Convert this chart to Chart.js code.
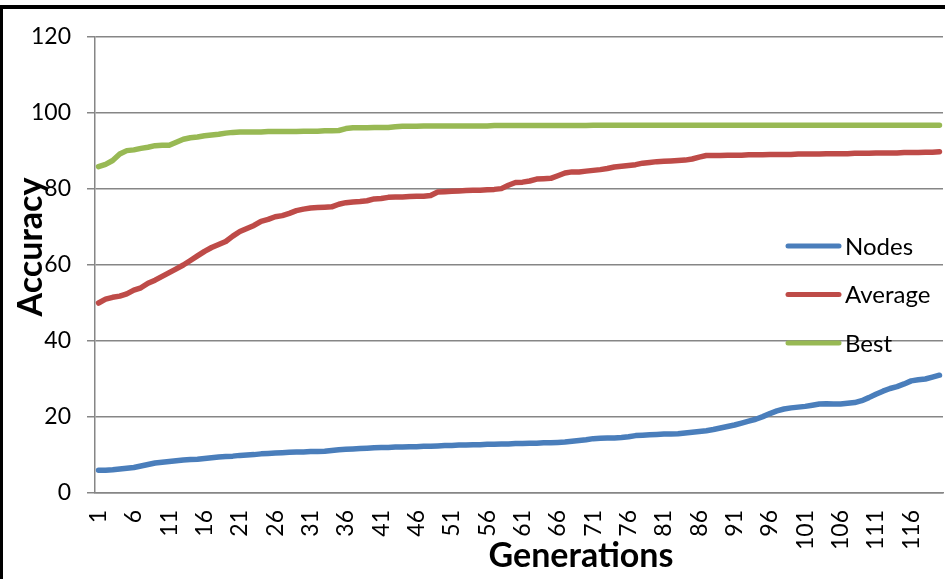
<!DOCTYPE html>
<html>
<head>
<meta charset="utf-8">
<script src="https://cdn.jsdelivr.net/npm/chart.js@4/dist/chart.umd.min.js"></script>
<style>
  html, body { margin: 0; padding: 0; background: #fff; }
  #wrap { position: relative; width: 945px; height: 579px; overflow: hidden; }
  #frame { position: absolute; left: 0; top: 5px; width: 1000px; height: 1000px;
           border-top: 4px solid #000; border-left: 3px solid #000; }
  #chart { position: absolute; left: 0; top: 0; }
</style>
</head>
<body>
<div id="wrap">
  <div id="frame"></div>
  <canvas id="chart" width="945" height="579"></canvas>
</div>
<script>
// generations on the x axis (labels shown every 5th)
const generations = [
  1, 2, 3, 4, 5, 6, 7, 8, 9, 10, 11, 12, 13, 14, 15, 16, 17, 18, 19, 20,
  21, 22, 23, 24, 25, 26, 27, 28, 29, 30, 31, 32, 33, 34, 35, 36, 37, 38, 39, 40,
  41, 42, 43, 44, 45, 46, 47, 48, 49, 50, 51, 52, 53, 54, 55, 56, 57, 58, 59, 60,
  61, 62, 63, 64, 65, 66, 67, 68, 69, 70, 71, 72, 73, 74, 75, 76, 77, 78, 79, 80,
  81, 82, 83, 84, 85, 86, 87, 88, 89, 90, 91, 92, 93, 94, 95, 96, 97, 98, 99, 100,
  101, 102, 103, 104, 105, 106, 107, 108, 109, 110, 111, 112, 113, 114, 115, 116, 117, 118, 119, 120
];

const nodes = [
  6.0, 6.0, 6.1, 6.3, 6.5, 6.7, 7.1, 7.5, 7.9, 8.1,
  8.3, 8.5, 8.7, 8.8, 8.9, 9.1, 9.3, 9.5, 9.6, 9.7,
  9.9, 10.0, 10.1, 10.3, 10.4, 10.5, 10.6, 10.7, 10.8, 10.8,
  10.9, 10.9, 11.0, 11.2, 11.4, 11.5, 11.6, 11.7, 11.8, 11.9,
  12.0, 12.0, 12.1, 12.1, 12.2, 12.2, 12.3, 12.3, 12.4, 12.5,
  12.5, 12.6, 12.6, 12.7, 12.7, 12.8, 12.8, 12.9, 12.9, 13.0,
  13.0, 13.1, 13.1, 13.2, 13.2, 13.3, 13.4, 13.6, 13.8, 14.0,
  14.3, 14.4, 14.5, 14.5, 14.6, 14.8, 15.1, 15.2, 15.3, 15.4,
  15.5, 15.5, 15.6, 15.8, 16.0, 16.2, 16.4, 16.7, 17.1, 17.5,
  17.9, 18.4, 18.9, 19.4, 20.1, 20.9, 21.6, 22.1, 22.4, 22.6,
  22.8, 23.1, 23.4, 23.5, 23.4, 23.4, 23.6, 23.8, 24.3, 25.1,
  26.0, 26.8, 27.5, 28.0, 28.7, 29.5, 29.8, 30.0, 30.5, 31.0
];

const average = [
  50.0, 51.0, 51.5, 51.8, 52.4, 53.4, 54.0, 55.2, 56.0, 57.0,
  58.0, 59.0, 60.0, 61.2, 62.4, 63.6, 64.6, 65.4, 66.2, 67.6,
  68.8, 69.6, 70.4, 71.5, 72.0, 72.7, 73.0, 73.6, 74.3, 74.7,
  75.0, 75.1, 75.2, 75.3, 76.0, 76.4, 76.6, 76.7, 76.9, 77.4,
  77.5, 77.8, 77.9, 77.9, 78.0, 78.1, 78.1, 78.3, 79.2, 79.3,
  79.4, 79.5, 79.6, 79.7, 79.7, 79.8, 79.9, 80.1, 81.0, 81.7,
  81.8, 82.1, 82.6, 82.7, 82.8, 83.5, 84.2, 84.5, 84.5, 84.7,
  84.9, 85.1, 85.4, 85.8, 86.0, 86.2, 86.4, 86.8, 87.0, 87.2,
  87.3, 87.4, 87.5, 87.6, 87.9, 88.4, 88.8, 88.8, 88.8, 88.9,
  88.9, 88.9, 89.0, 89.0, 89.0, 89.1, 89.1, 89.1, 89.1, 89.2,
  89.2, 89.2, 89.2, 89.3, 89.3, 89.3, 89.3, 89.4, 89.4, 89.4,
  89.5, 89.5, 89.5, 89.5, 89.6, 89.6, 89.6, 89.7, 89.7, 89.8
];

const best = [
  85.9, 86.5, 87.5, 89.2, 90.1, 90.3, 90.7, 91.0, 91.4, 91.5,
  91.5, 92.3, 93.1, 93.5, 93.7, 94.0, 94.2, 94.4, 94.7, 94.9,
  95.0, 95.0, 95.0, 95.0, 95.1, 95.1, 95.1, 95.1, 95.1, 95.2,
  95.2, 95.2, 95.3, 95.3, 95.4, 95.9, 96.1, 96.1, 96.1, 96.2,
  96.2, 96.2, 96.4, 96.5, 96.5, 96.5, 96.6, 96.6, 96.6, 96.6,
  96.6, 96.6, 96.6, 96.6, 96.6, 96.6, 96.7, 96.7, 96.7, 96.7,
  96.7, 96.7, 96.7, 96.7, 96.7, 96.7, 96.7, 96.7, 96.7, 96.7,
  96.8, 96.8, 96.8, 96.8, 96.8, 96.8, 96.8, 96.8, 96.8, 96.8,
  96.8, 96.8, 96.8, 96.8, 96.8, 96.8, 96.8, 96.8, 96.8, 96.8,
  96.8, 96.8, 96.8, 96.8, 96.8, 96.8, 96.8, 96.8, 96.8, 96.8,
  96.8, 96.8, 96.8, 96.8, 96.8, 96.8, 96.8, 96.8, 96.8, 96.8,
  96.8, 96.8, 96.8, 96.8, 96.8, 96.8, 96.8, 96.8, 96.8, 96.8
];

const seriesNames = ['Nodes', 'Average', 'Best'];
const yMin = 0, yMax = 120, yStep = 20;

const FONT = 'Lato, "Open Sans", sans-serif';
const GRID = '#868686';

function lineSet(label, data, color) {
  return {
    label, data,
    borderColor: color,
    backgroundColor: color,
    borderWidth: 5.5,
    pointRadius: 0,
    tension: 0,
    borderCapStyle: 'round',
    borderJoinStyle: 'round',
    fill: false
  };
}

// axis titles + legend drawn the way the spreadsheet placed them
const excelBits = {
  id: 'excelBits',
  afterDraw(chart) {
    const ctx = chart.ctx;
    ctx.save();
    ctx.fillStyle = '#000';

    // x title
    ctx.font = `bold 34px ${FONT}`;
    ctx.textAlign = 'center';
    ctx.textBaseline = 'alphabetic';
    ctx.fillText('Generations', 581, 567);

    // y title
    ctx.save();
    ctx.translate(42, 247);
    ctx.rotate(-Math.PI / 2);
    ctx.fillText('Accuracy', 0, 0);
    ctx.restore();

    // legend inside the plot
    ctx.font = `24px ${FONT}`;
    ctx.textAlign = 'left';
    ctx.textBaseline = 'middle';
    ctx.lineCap = 'round';
    chart.data.datasets.forEach((ds, i) => {
      const y = 246 + i * 48.5;
      ctx.strokeStyle = ds.borderColor;
      ctx.lineWidth = 5;
      ctx.beginPath();
      ctx.moveTo(788, y);
      ctx.lineTo(839, y);
      ctx.stroke();
      ctx.fillText(ds.label, 845, y + 1);
    });
    ctx.restore();
  }
};

new Chart(document.getElementById('chart'), {
  type: 'line',
  data: {
    labels: generations,
    datasets: [
      lineSet(seriesNames[0], nodes, '#4A7EBB'),
      lineSet(seriesNames[1], average, '#BE4B48'),
      lineSet(seriesNames[2], best, '#98B954')
    ]
  },
  options: {
    responsive: false,
    devicePixelRatio: 1,
    animation: false,
    layout: { padding: { top: 37, right: 2, bottom: 0, left: 0 } },
    plugins: {
      legend: { display: false },
      tooltip: { enabled: false }
    },
    scales: {
      x: {
        offset: true,
        grid: { display: false, drawTicks: false, tickLength: 0 },
        border: { display: true, color: GRID, width: 1.5 },
        ticks: {
          autoSkip: false,
          minRotation: 90,
          maxRotation: 90,
          padding: 17,
          color: '#000',
          font: { family: FONT, size: 23 },
          callback(val, idx) {
            return idx % 5 === 0 ? String(generations[idx]) : '';
          }
        },
        afterFit(scale) {
          scale.height = 86;
          scale.paddingLeft = 0;
          scale.paddingRight = 0;
        }
      },
      y: {
        min: yMin,
        max: yMax,
        grid: { color: GRID, lineWidth: 1.5, tickLength: 8, drawTicks: true },
        border: { display: true, color: GRID, width: 1.5 },
        ticks: {
          stepSize: yStep,
          padding: 16,
          color: '#000',
          font: { family: FONT, size: 23 }
        },
        afterFit(scale) {
          scale.width = 95;
        }
      }
    }
  },
  plugins: [excelBits]
});
</script>
</body>
</html>
